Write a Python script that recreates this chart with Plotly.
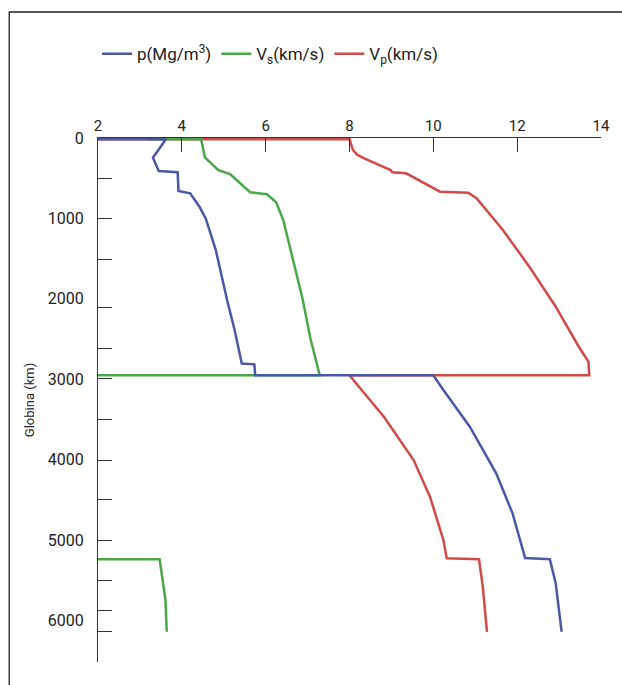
import plotly.graph_objects as go

# Depth (km) and property values along each profile
rho_depth = [15, 15, 245, 410, 425, 660, 688, 854, 1000, 1393, 2015, 2390, 2805, 2815, 2950,
             2950, 3134, 3591, 4171, 4668, 5225, 5240, 5539, 6141]
rho_value = [1.02, 3.62, 3.31, 3.45, 3.90, 3.92, 4.20, 4.42, 4.57, 4.81, 5.08, 5.26, 5.43, 5.73, 5.75,
             10.00, 10.24, 10.87, 11.50, 11.89, 12.19, 12.78, 12.92, 13.06]

vs_depth = [15, 15, 240, 400, 450, 675, 700, 800, 1020, 1310, 1642, 2000, 2500, 2800, 2950,
            2950, 5240, 5240, 5746, 6141]
vs_value = [3.20, 4.46, 4.55, 4.87, 5.15, 5.63, 6.03, 6.25, 6.42, 6.56, 6.71, 6.88, 7.07, 7.22, 7.29,
            0.00, 0.00, 3.47, 3.61, 3.64]

vp_depth = [15, 15, 149, 211, 253, 398, 427, 439, 668, 680, 750, 1144, 1600, 2098, 2596, 2782, 2950,
            2950, 3072, 3466, 4005, 4461, 5000, 5228, 5240, 5581, 6141]
vp_value = [1.45, 8.00, 8.08, 8.19, 8.35, 8.98, 9.02, 9.35, 10.16, 10.83, 11.03, 11.66, 12.29, 12.92,
            13.47, 13.70, 13.72,
            8.00, 8.19, 8.82, 9.53, 9.92, 10.24, 10.32, 11.09, 11.18, 11.28]

x_ticks = [2, 4, 6, 8, 10, 12, 14]
y_labels = [0, 1000, 2000, 3000, 4000, 5000, 6000]
y_marks = [501, 1007, 1505, 2114, 2624, 2997, 3507, 4005, 4502, 5007, 5504, 5877, 6132]

BLUE = "#4a58a6"
GREEN = "#48a848"
RED = "#d04a48"
FONT = "Roboto, sans-serif"
TEXT = "#222222"

fig = go.Figure()
# red first so that green and blue sit on top where they overlap
fig.add_trace(go.Scatter(x=vp_value, y=vp_depth, mode="lines", name="V<sub>p</sub>(km/s)",
                         line=dict(color=RED, width=2.5)))
fig.add_trace(go.Scatter(x=vs_value, y=vs_depth, mode="lines", name="V<sub>s</sub>(km/s)",
                         line=dict(color=GREEN, width=2.5)))
fig.add_trace(go.Scatter(x=rho_value, y=rho_depth, mode="lines", name="p(Mg/m<sup>3</sup>)",
                         line=dict(color=BLUE, width=2.5)))

axis_color = "#333333"
fig.update_xaxes(
    side="top", range=[2, 14], tickmode="array", tickvals=x_ticks,
    ticks="inside", ticklen=14, tickwidth=1.3, tickcolor=axis_color,
    showline=True, linecolor=axis_color, linewidth=1.3,
    showgrid=False, zeroline=False, ticklabelstandoff=0,
    tickfont=dict(family=FONT, size=15, color=TEXT),
)
fig.update_yaxes(
    range=[6517, 0], tickmode="array", tickvals=y_labels, ticks="",
    minor=dict(tickmode="array", tickvals=y_marks, ticks="inside", ticklen=14,
               tickwidth=1.3, tickcolor=axis_color, showgrid=False),
    showline=True, linecolor=axis_color, linewidth=1.3,
    showgrid=False, zeroline=False, ticklabelstandoff=10,
    tickfont=dict(family=FONT, size=16, color=TEXT),
    title=dict(text="Globina (km)", font=dict(family=FONT, size=13, color=TEXT), standoff=10),
)

# outer frame line along the left and top edges of the page
fig.add_shape(type="path", xref="paper", yref="paper",
              path="M -0.1765,-0.05 L -0.1765,1.2405 L 1.05,1.2405",
              line=dict(color="#222222", width=1.3))

fig.update_layout(
    width=622, height=685,
    margin=dict(l=98, r=16, t=138, b=23),
    paper_bgcolor="white", plot_bgcolor="white",
    showlegend=True,
    legend=dict(orientation="h", traceorder="reversed", x=-0.002, xanchor="left",
                y=1.16, yanchor="middle", font=dict(family=FONT, size=17, color=TEXT),
                bgcolor="rgba(0,0,0,0)", itemwidth=30),
)

fig.write_html("out.html")
